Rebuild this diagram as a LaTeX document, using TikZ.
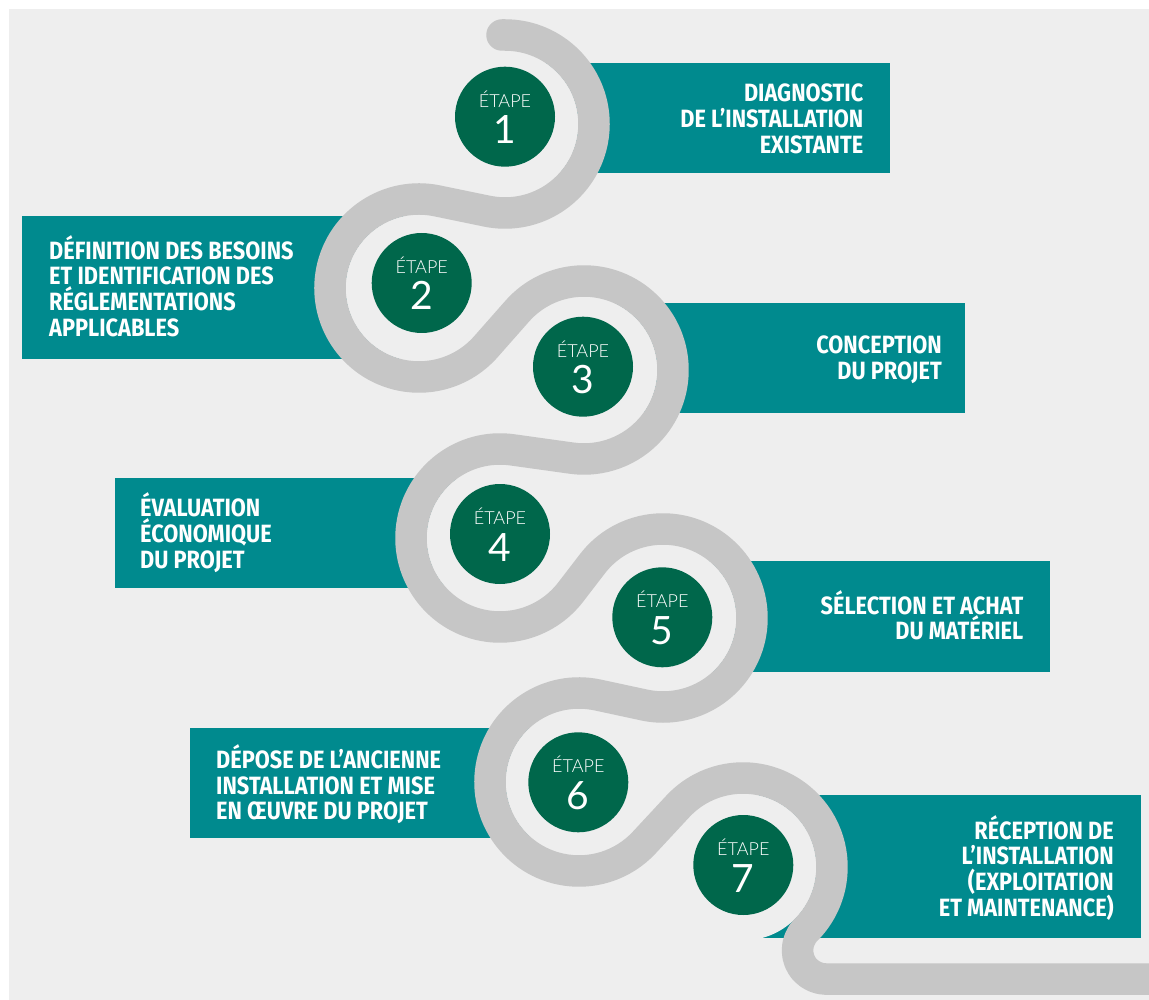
\documentclass[tikz,border=0pt]{standalone}
\usepackage{fontspec}
\usetikzlibrary{calc}
\newfontfamily\boxfont{Fira Sans}[FakeStretch=0.87]
\newfontfamily\etapefont{Lato Light}
\newfontfamily\numfont{Lato}
\definecolor{bgc}{HTML}{EEEEEE}
\definecolor{pathc}{HTML}{C6C6C6}
\definecolor{boxteal}{HTML}{008A8E}
\definecolor{stepgreen}{HTML}{00674B}
\newcommand\rlines[1]{\vtop{\halign{\hfil##\cr#1\crcr}}}
\newcommand\llines[1]{\vtop{\halign{##\hfil\cr#1\crcr}}}
\begin{document}
\begin{tikzpicture}[x=1pt,y=-1pt,
  panel/.style={fill=boxteal},
  road/.style={draw=pathc,line width=31.5pt,line cap=round,line join=round},
  hole/.style={fill=bgc},
  stepdisk/.style={circle,fill=stepgreen,minimum size=100pt,inner sep=0pt,outer sep=0pt},
  boxtext/.style={text=white,inner sep=0pt,font=\boxfont\bfseries\fontsize{25}{25.7}\selectfont},
  etape/.style={text=white,inner sep=0pt,anchor=base,font=\etapefont\fontsize{18}{19}\selectfont},
  num/.style={text=white,inner sep=0pt,anchor=base,font=\numfont\fontsize{39}{40}\selectfont}]
\useasboundingbox (0,0) rectangle (1149,1000);
\clip (0,0) rectangle (1149,1000);
\fill[bgc] (9,9) rectangle (1149,1000);
% ring centres
\coordinate (r1) at (505,124);
\coordinate (r2) at (419,288);
\coordinate (r3) at (584,370);
\coordinate (r4) at (500,538);
\coordinate (r5) at (663,618);
\coordinate (r6) at (579,782);
\coordinate (r7) at (743,867);
% panels
\fill[panel] (505,63.3) rectangle (890,173.3);
\fill[panel] (22,216) rectangle (419,359.3);
\fill[panel] (584,303) rectangle (965,413);
\fill[panel] (115,478.3) rectangle (500,588.3);
\fill[panel] (663,561) rectangle (1050,671.5);
\fill[panel] (190,728.3) rectangle (579,838.3);
\fill[panel] (743,795) rectangle (1141,938.3);
% holes inside the rings
\foreach \r in {r1,r2,r3,r4,r5,r6,r7} \fill[hole] (\r) circle[radius=73.5];
% winding road
\draw[road] (502,35) -- ($(r1)+(-90:89)$) arc[start angle=-90,end angle=101.67,radius=89]
  -- ($(r2)+(281.67:89)$) arc[start angle=281.67,end angle=41.43,radius=89]
  -- ($(r3)+(221.43:89)$) arc[start angle=221.43,end angle=457.94,radius=89]
  -- ($(r4)+(277.94:89)$) arc[start angle=277.94,end angle=37.52,radius=89]
  -- ($(r5)+(217.52:89)$) arc[start angle=217.52,end angle=462.12,radius=89]
  -- ($(r6)+(282.12:89)$) arc[start angle=282.12,end angle=42.91,radius=89]
  -- ($(r7)+(222.91:89)$) arc[start angle=222.91,end angle=405,radius=89]
  arc[start angle=225,end angle=90,radius=28.8] -- (1175,979.1);
% step discs
\node[stepdisk] (s1) at (505,116.7) {};
\node[stepdisk] (s2) at (421.7,283) {};
\node[stepdisk] (s3) at (583,366.7) {};
\node[stepdisk] (s4) at (500,534) {};
\node[stepdisk] (s5) at (662.3,617.3) {};
\node[stepdisk] (s6) at (578.3,782.3) {};
\node[stepdisk] (s7) at (743.3,865) {};
\foreach \s/\n in {s1/1,s2/2,s3/3,s4/4,s5/5,s6/6,s7/7}{
  \node[etape] (e\n) at ($(\s)+(0,-9.4)$) {ÉTAPE};
  \node[num] (n\n) at ($(\s)+(0,27)$) {\n};
}
% panel texts
\node[boxtext,anchor=base east] (t1) at (863.5,101.7) {\rlines{DIAGNOSTIC\cr DE L’INSTALLATION\cr EXISTANTE}};
\node[boxtext,anchor=base west] (t2) at (49,259.3) {\llines{DÉFINITION DES BESOINS\cr ET IDENTIFICATION DES\cr RÉGLEMENTATIONS\cr APPLICABLES}};
\node[boxtext,anchor=base east] (t3) at (942,354) {\rlines{CONCEPTION\cr DU PROJET}};
\node[boxtext,anchor=base west] (t4) at (140,516.7) {\llines{ÉVALUATION\cr ÉCONOMIQUE\cr DU PROJET}};
\node[boxtext,anchor=base east] (t5) at (1023.5,614) {\rlines{SÉLECTION ET ACHAT\cr DU MATÉRIEL}};
\node[boxtext,anchor=base west] (t6) at (216,768.3) {\llines{DÉPOSE DE L’ANCIENNE\cr INSTALLATION ET MISE\cr EN ŒUVRE DU PROJET}};
\node[boxtext,anchor=base east] (t7) at (1114,839) {\rlines{RÉCEPTION DE\cr L’INSTALLATION\cr (EXPLOITATION\cr ET MAINTENANCE)}};
\end{tikzpicture}
\end{document}
